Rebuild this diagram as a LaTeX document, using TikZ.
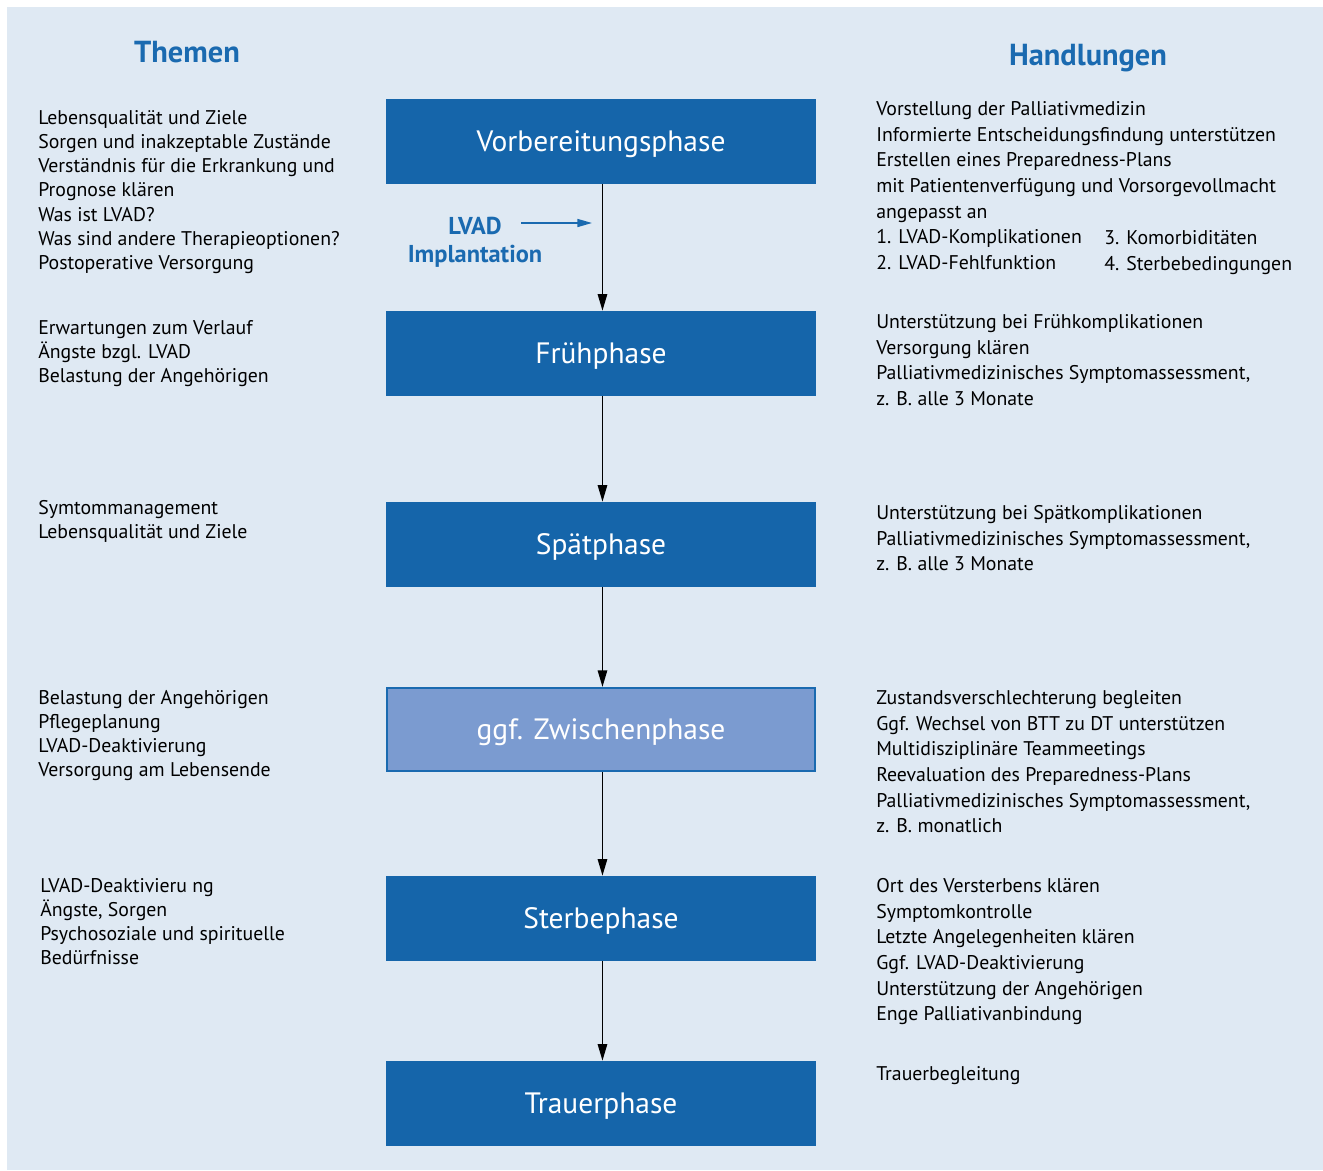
\documentclass[tikz,border=0pt]{standalone}
\usepackage{fontspec}
\setmainfont{PT Sans}
\usetikzlibrary{arrows.meta}
\definecolor{bgc}{RGB}{223,233,243}
\definecolor{boxc}{RGB}{21,101,170}
\definecolor{midc}{RGB}{123,155,208}
\definecolor{titc}{RGB}{26,106,176}
\begin{document}
\begin{tikzpicture}[x=0.75pt,y=-0.75pt,
  phase/.style={fill=boxc,text=white,minimum width=322.5pt,minimum height=63.75pt,inner sep=0pt,text height=17pt,text depth=2pt,font=\fontsize{22.1}{26}\selectfont},
  ltxt/.style={anchor=north west,align=left,inner sep=0pt,font=\fontsize{14.85}{18.15}\selectfont},
  rtxt/.style={anchor=north west,align=left,inner sep=0pt,font=\fontsize{14.85}{19.3}\selectfont},
  ttl/.style={anchor=base,text=titc,font=\fontsize{22.8}{26}\selectfont\bfseries,inner sep=0pt},
  flow/.style={black,line width=1.4pt,-{Triangle[width=7pt,length=12.5pt]}}
]
\useasboundingbox (0,0) rectangle (1323,1170);
\fill[bgc] (7,7) rectangle (1323,1170);

\node[ttl] (t1) at (187,62.7) {Themen};
\node[ttl] (t2) at (1088,66) {Handlungen};

\node[phase] (p1) at (601,141.5) {Vorbereitungsphase};
\node[phase] (p2) at (601,353.5) {Frühphase};
\node[phase] (p3) at (601,544.5) {Spätphase};
\node[phase,fill=midc,draw=titc,line width=1.5pt,minimum width=321pt,minimum height=62.3pt] (p4) at (601,729.5) {ggf. Zwischenphase};
\node[phase] (p5) at (601,918.5) {Sterbephase};
\node[phase] (p6) at (601,1103.5) {Trauerphase};

\draw[flow] ([xshift=1.1pt]p1.south) -- ([xshift=1.1pt]p2.north);
\draw[flow] ([xshift=1.1pt]p2.south) -- ([xshift=1.1pt]p3.north);
\draw[flow] ([xshift=1.1pt]p3.south) -- ([xshift=1.1pt]p4.north);
\draw[flow] ([xshift=1.1pt]p4.south) -- ([xshift=1.1pt]p5.north);
\draw[flow] ([xshift=1.1pt]p5.south) -- ([xshift=1.1pt]p6.north);

\node[anchor=north,text=titc,font=\fontsize{18.3}{20.8}\selectfont\bfseries,align=center,inner sep=0pt] (lv) at (475,215) {\strut LVAD\\Implantation};
\coordinate (la) at (521,223);
\coordinate (lb) at (592,223);
\draw[titc,line width=1.2pt,-{Triangle[width=6pt,length=11pt]}] (la) -- (lb);

% Themen
\node[ltxt] (l1) at (38,107) {\strut Lebensqualität und Ziele\\Sorgen und inakzeptable Zustände\\Verständnis für die Erkrankung und\\Prognose klären\\Was ist LVAD?\\Was sind andere Therapieoptionen?\\Postoperative Versorgung};
\node[ltxt] (l2) at (38,317) {\strut Erwartungen zum Verlauf\\Ängste bzgl. LVAD\\Belastung der Angehörigen};
\node[ltxt] (l3) at (38,497) {\strut Symtommanagement\\Lebensqualität und Ziele};
\node[ltxt] (l4) at (38,687) {\strut Belastung der Angehörigen\\Pflegeplanung\\LVAD-Deaktivierung\\Versorgung am Lebensende};
\node[ltxt] (l5) at (40,875) {\strut LVAD-Deaktivieru ng\\Ängste, Sorgen\\Psychosoziale und spirituelle\\Bedürfnisse};

% Handlungen
\node[rtxt] (r1) at (876,97) {\strut Vorstellung der Palliativmedizin\\Informierte Entscheidungsfindung unterstützen\\Erstellen eines Preparedness-Plans\\mit Patientenverfügung und Vorsorgevollmacht\\angepasst an\\1. LVAD-Komplikationen\\2. LVAD-Fehlfunktion};
\node[rtxt] (r1b) at (1104,226) {\strut 3. Komorbiditäten\\4. Sterbebedingungen};
\node[rtxt] (r2) at (876,310) {\strut Unterstützung bei Frühkomplikationen\\Versorgung klären\\Palliativmedizinisches Symptomassessment,\\z. B. alle 3 Monate};
\node[rtxt] (r3) at (876,501) {\strut Unterstützung bei Spätkomplikationen\\Palliativmedizinisches Symptomassessment,\\z. B. alle 3 Monate};
\node[rtxt] (r4) at (876,686) {\strut Zustandsverschlechterung begleiten\\Ggf. Wechsel von BTT zu DT unterstützen\\Multidisziplinäre Teammeetings\\Reevaluation des Preparedness-Plans\\Palliativmedizinisches Symptomassessment,\\z. B. monatlich};
\node[rtxt] (r5) at (876,874) {\strut Ort des Versterbens klären\\Symptomkontrolle\\Letzte Angelegenheiten klären\\Ggf. LVAD-Deaktivierung\\Unterstützung der Angehörigen\\Enge Palliativanbindung};
\node[rtxt] (r6) at (876,1062) {\strut Trauerbegleitung};
\end{tikzpicture}
\end{document}
